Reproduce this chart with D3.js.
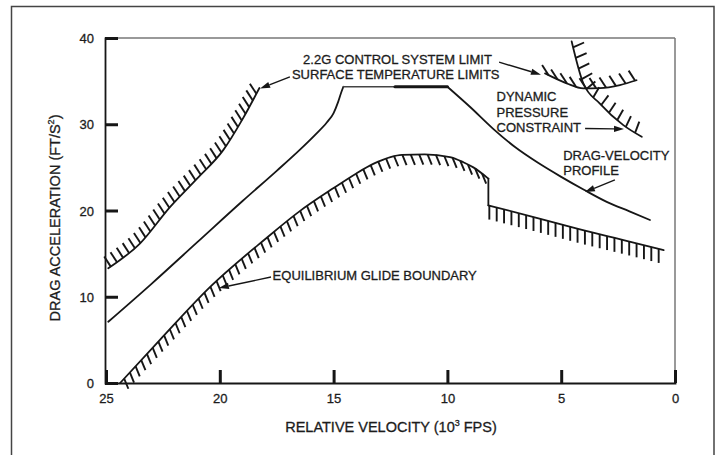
<!DOCTYPE html>
<html><head><meta charset="utf-8">
<script src="https://cdn.jsdelivr.net/npm/d3@7/dist/d3.min.js"></script>
<style>
body{margin:0;background:#fff}
text{font-family:"Liberation Sans",Arial,Helvetica,sans-serif;fill:#1c1c1c;stroke:#1c1c1c;stroke-width:0.3px}
</style>
</head><body>
<svg id="c" width="721" height="455"></svg>
<script>
// ---- data (velocity in 10^3 fps, drag acceleration in ft/s^2) ----
const xTicks = [25, 20, 15, 10, 5, 0];
const yTicks = [0, 10, 20, 30, 40];
const surfaceTempLimit = [[24.9,13.3],[23.5,16.2],[22.19,20.4],[21,23.7],[19.85,27.0],[19,30.6],[18.26,34.2]];
const dragProfileRise = [[24.9,7.1],[23,11.5],[21,16.3],[19,21.1],[17.5,24.6],[16.5,27.0],[15.8,28.8],[15.3,30.2],[15.0,31.3],[14.8,32.6],[14.65,33.8],[14.57,34.35]];
const dragProfileTop = [[14.57,34.35],[10.0,34.35]];
const controlLimitSegment = [[12.3,34.35],[10.0,34.35]];
const dragProfileFall = [[10,34.35],[9,32.0],[8,29.5],[7,27.3],[6,25.5],[5,23.9],[4,22.4],[3,21.0],[2,19.9],[1.1,18.9]];
const glideUpper = [[24.38,0],[22.63,5.0],[20.4,11.2],[18,16.7],[16.5,19.9],[15,22.6],[14,24.3],[13.26,25.4],[12.5,26.2],[12.0,26.45],[11,26.5],[9.89,26.2],[9.3,25.6],[8.86,25.0],[8.2,23.7]];
const glideLower = [[8.2,20.6],[6,19.1],[4.3,17.9],[2,16.4],[0.5,15.4]];
const dynamicPressure = [[4.54,39.6],[4.03,34.75],[3.3,32.4],[2.27,29.9],[1.46,28.55]];
const controlLimit = [[5.71,35.9],[4.76,34.75],[4.03,34.17],[3.3,34.2],[2.42,34.55],[1.69,35.1]];

const labelControl = ["2.2G CONTROL SYSTEM LIMIT"];
const labelSurface = ["SURFACE TEMPERATURE LIMITS"];
const labelDynamic = ["DYNAMIC","PRESSURE","CONSTRAINT"];
const labelProfile = ["DRAG-VELOCITY","PROFILE"];
const labelGlide = ["EQUILIBRIUM GLIDE BOUNDARY"];
// annotation anchors [v,a]: text start, arrow tail, arrow tip
const annControl = {text:[16.34,37.04], from:[7.73,37.2], to:[5.89,35.75]};
const annSurface = {text:[16.83,35.19], from:[16.92,35.5], to:[18.23,34.14]};
const annDynamic = {text:[7.84,32.66], from:[3.95,29.5], to:[2.24,29.45]};
const annProfile = {text:[4.91,25.9], from:[2.64,23.54], to:[3.96,22.14]};
const annGlide = {text:[17.68,11.99], from:[17.75,12.29], to:[20.04,11.01]};

// ---- drawing ----
const svg = d3.select("#c");
const x = d3.scaleLinear().domain([25,0]).range([106,675]);
const y = d3.scaleLinear().domain([0,40]).range([383,38]);
const ink = "#161616";

// outer page frame
svg.append("path").attr("d","M11.5,455 V6.5 H714 V455").attr("fill","none").attr("stroke","#444").attr("stroke-width",1.5);

// plot frame
svg.append("line").attr("x1",x(25)-1).attr("x2",x(0)).attr("y1",y(40)).attr("y2",y(40)).attr("stroke","#777").attr("stroke-width",1.5);
svg.append("line").attr("x1",x(0)).attr("x2",x(0)).attr("y1",y(40)).attr("y2",y(0)).attr("stroke","#777").attr("stroke-width",1.5);

const xAxis = d3.axisBottom(x).tickValues(xTicks).tickSize(-13).tickPadding(22).tickFormat(d3.format("d"));
const yAxis = d3.axisLeft(y).tickValues(yTicks).tickSize(-13).tickPadding(26).tickFormat(d3.format("d"));
const gx = svg.append("g").attr("transform",`translate(0,${y(0)})`).call(xAxis);
const gy = svg.append("g").attr("transform",`translate(${x(25)-1},0)`).call(yAxis);
[gx,gy].forEach(g=>{
  g.select(".domain").attr("stroke",ink).attr("stroke-width",1.8);
  g.selectAll(".tick line").attr("stroke",ink).attr("stroke-width",3);
  g.selectAll(".tick text").attr("fill","#222").style("font-size","13px").style("font-family",'"Liberation Sans",Arial,sans-serif');
});
gy.selectAll(".tick text").attr("dy","0.35em").attr("x",-11);
gx.selectAll(".tick text").attr("dy","0").attr("y",20);

// axis titles
const xt = svg.append("text").attr("x",391).attr("y",432).attr("text-anchor","middle").style("font-size","14.5px");
xt.append("tspan").text("RELATIVE VELOCITY (10");
xt.append("tspan").text("3").attr("dy",-6).style("font-size","9px");
xt.append("tspan").text(" FPS)").attr("dy",6);
const yt = svg.append("text").attr("transform","translate(60,218) rotate(-90)").attr("text-anchor","middle").style("font-size","14.5px");
yt.append("tspan").text("DRAG ACCELERATION (FT/S");
yt.append("tspan").text("2").attr("dy",-6).style("font-size","9px");
yt.append("tspan").text(")").attr("dy",6);

const smooth = d3.line().x(d=>x(d[0])).y(d=>y(d[1])).curve(d3.curveMonotoneX);
const straight = d3.line().x(d=>x(d[0])).y(d=>y(d[1]));

function curve(data, gen, w){
  return svg.append("path").attr("d",gen(data)).attr("fill","none").attr("stroke",ink)
    .attr("stroke-width",w||1.8).attr("stroke-linejoin","round").attr("stroke-linecap","round");
}
// hatch: along path, spacing, length; dir either fixed [dx,dy] or normal with sign and rotation
function hatch(path, spacing, len, opt){
  const node = path.node(), L = node.getTotalLength();
  const g = svg.append("g").attr("stroke",ink).attr("stroke-width",1.9).attr("stroke-linecap","butt");
  for(let l=(opt.start||spacing/2); l<=L-(opt.end||0); l+=spacing){
    const p = node.getPointAtLength(l);
    let dx, dy;
    if(opt.fixed){ const n=Math.hypot(opt.fixed[0],opt.fixed[1]); dx=opt.fixed[0]/n; dy=opt.fixed[1]/n; }
    else {
      const a=node.getPointAtLength(Math.max(0,l-1)), b=node.getPointAtLength(Math.min(L,l+1));
      let tx=b.x-a.x, ty=b.y-a.y; const n=Math.hypot(tx,ty); tx/=n; ty/=n;
      dx = opt.side*ty; dy = -opt.side*tx;
      const r=(opt.rot||0)*Math.PI/180, c=Math.cos(r), s=Math.sin(r);
      const ndx=dx*c-dy*s, ndy=dx*s+dy*c; dx=ndx; dy=ndy;
    }
    g.append("line").attr("x1",p.x).attr("y1",p.y).attr("x2",p.x+dx*len).attr("y2",p.y+dy*len);
  }
}

// surface temperature limit
const pS = curve(surfaceTempLimit, smooth);
hatch(pS, 7.6, 12, {fixed:[-0.55,-0.85], start:3});
// drag-velocity profile
curve(dragProfileRise, smooth);
curve(dragProfileTop, straight, 1.4).attr("stroke","#444");
curve(controlLimitSegment, straight, 3.2);
curve(dragProfileFall, smooth);
// equilibrium glide boundary
const pG1 = curve(glideUpper, smooth);
hatch(pG1, 8.4, 11, {fixed:[0.38,0.92], start:6, end:4});
curve([glideUpper[glideUpper.length-1], glideLower[0]], straight);
const pG2 = curve(glideLower, smooth);
hatch(pG2, 7.6, 14, {fixed:[0,1], start:1});
// dynamic pressure constraint
const pD = curve(dynamicPressure, smooth);
hatch(pD, 11, 12, {side:1, rot:-10, start:6});
// 2.2 g control limit
const pC = curve(controlLimit, smooth);
hatch(pC, 10, 12, {fixed:[-0.55,-0.85], start:4});

// annotations
function arrow(a){
  const x1=x(a.from[0]), y1=y(a.from[1]), x2=x(a.to[0]), y2=y(a.to[1]);
  const ang=Math.atan2(y2-y1,x2-x1), hl=10, hw=3.2;
  const bx=x2-hl*Math.cos(ang), by=y2-hl*Math.sin(ang);
  svg.append("line").attr("x1",x1).attr("y1",y1).attr("x2",bx).attr("y2",by).attr("stroke",ink).attr("stroke-width",1.4);
  svg.append("path").attr("fill",ink)
    .attr("d",`M${x2},${y2} L${bx-hw*Math.sin(ang)},${by+hw*Math.cos(ang)} L${bx+hw*Math.sin(ang)},${by-hw*Math.cos(ang)} Z`);
}
function label(lines, a, lh){
  const t = svg.append("text").attr("x",x(a.text[0])).attr("y",y(a.text[1])).style("font-size","13px");
  lines.forEach((s,i)=>t.append("tspan").attr("x",x(a.text[0])).attr("dy",i?lh:0).text(s));
}
[annControl,annSurface,annDynamic,annProfile,annGlide].forEach(arrow);
label(labelControl, annControl, 0);
label(labelSurface, annSurface, 0);
label(labelDynamic, annDynamic, 15.5);
label(labelProfile, annProfile, 15);
label(labelGlide, annGlide, 0);
</script>
</body></html>
